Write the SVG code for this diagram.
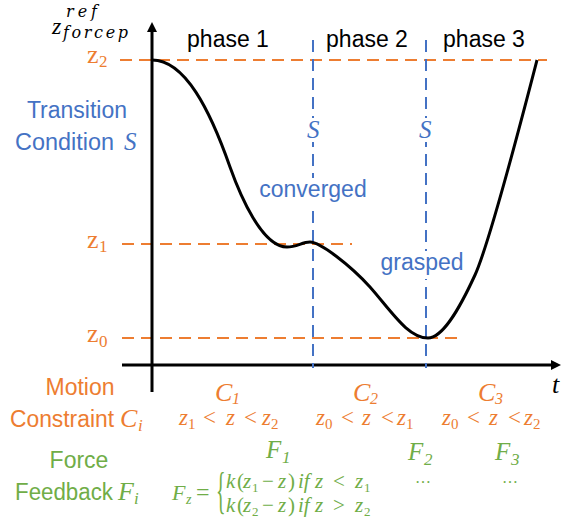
<svg xmlns="http://www.w3.org/2000/svg" width="563" height="523" viewBox="0 0 563 523">
<style>
.sans{font-family:"Liberation Sans",Arial,sans-serif;font-size:23px}
.mi{font-family:"Liberation Serif","Times New Roman",serif;font-style:italic}
.mu{font-family:"Liberation Serif","Times New Roman",serif}
.dj{font-family:"DejaVu Serif",serif;font-style:italic}
.or{fill:#ED7D31}
.bl{fill:#4472C4}
.gr{fill:#70AD47}
.bk{fill:#000}
.hd{stroke:#ED7D31;stroke-width:2;stroke-dasharray:12 7;fill:none}
.vd{stroke:#4472C4;stroke-width:2;stroke-dasharray:12 7;fill:none}
.axis{stroke:#000;stroke-width:3;fill:none}
.mid{text-anchor:middle}
</style>
<defs>
<marker id="arr" viewBox="0 0 10 10" refX="2" refY="5" markerWidth="10" markerHeight="10" markerUnits="userSpaceOnUse" orient="auto">
<path d="M0,0 L10,5 L0,10 z" fill="#000"/>
</marker>
</defs>
<rect width="563" height="523" fill="#fff"/>

<g id="guides">
<line class="hd" x1="120" y1="60" x2="547" y2="60"/>
<line class="hd" x1="122" y1="244" x2="352" y2="244"/>
<line class="hd" x1="122" y1="338" x2="462" y2="338"/>
</g>

<g id="axes">
<line class="axis" x1="152" y1="392" x2="152" y2="30" marker-end="url(#arr)"/>
<line class="axis" x1="122" y1="365" x2="553" y2="365" marker-end="url(#arr)"/>
</g>

<g id="phase-borders">
<line class="vd" x1="313" y1="40" x2="313" y2="368"/>
<line class="vd" x1="426" y1="40" x2="426" y2="368"/>
</g>

<g id="curve">
<path d="M152,60 C185,60 210,110 230,167 C240,195 262,247 287,247 C297,247 302,242 310,242 C320,242 350,265 370,287 C392,312 408,338 428,338 C442,338 458,312 475,275 C490,242 522,118 537,60" fill="none" stroke="#000" stroke-width="3"/>
</g>

<g id="y-label">
<text class="mi bk" x="52" y="34" font-size="24">z</text>
<text class="dj bk" x="66" y="17" font-size="16" textLength="31" lengthAdjust="spacing">ref</text>
<text class="dj bk" x="63" y="38" font-size="16" textLength="65" lengthAdjust="spacing">forcep</text>
</g>

<g id="level-labels">
<text class="mu or" x="87" y="63" font-size="26">z<tspan x="99" y="67" font-size="17">2</tspan></text>
<text class="mu or" x="87" y="248" font-size="26">z<tspan x="99" y="252" font-size="17">1</tspan></text>
<text class="mu or" x="87" y="342" font-size="26">z<tspan x="99" y="347" font-size="17">0</tspan></text>
</g>

<g id="phase-labels">
<text class="sans bk mid" x="228" y="47">phase 1</text>
<text class="sans bk mid" x="367" y="47">phase 2</text>
<text class="sans bk mid" x="484" y="47">phase 3</text>
</g>

<g id="transition-labels">
<text class="sans bl mid" x="77" y="118">Transition</text>
<text class="sans bl" x="15" y="150" textLength="99" lengthAdjust="spacingAndGlyphs">Condition</text>
<text class="mi bl" x="124" y="150" font-size="25">S</text>
<rect x="305" y="118" width="16" height="24" fill="#fff"/>
<text class="mi bl" x="307" y="138" font-size="25">S</text>
<rect x="418" y="118" width="16" height="24" fill="#fff"/>
<text class="mi bl" x="419" y="138" font-size="25">S</text>
<rect x="258" y="178" width="110" height="28" fill="#fff"/>
<text class="sans bl mid" x="313" y="197">converged</text>
<rect x="380" y="251" width="84" height="28" fill="#fff"/>
<text class="sans bl mid" x="422" y="270">grasped</text>
</g>

<g id="t-label">
<text class="mi bk" x="552" y="393" font-size="26">t</text>
</g>

<g id="motion-constraint">
<text class="sans or mid" x="80" y="395">Motion</text>
<text class="sans or" x="10" y="427" textLength="104" lengthAdjust="spacingAndGlyphs">Constraint</text>
<text class="mi or" x="120" y="427" font-size="26">C<tspan x="138" y="431" font-size="17">i</tspan></text>
<text class="mi or" x="215" y="401" font-size="26">C<tspan x="232" y="404" font-size="16">1</tspan></text>
<text class="mi or" x="353" y="401" font-size="26">C<tspan x="370" y="404" font-size="16">2</tspan></text>
<text class="mi or" x="478" y="401" font-size="26">C<tspan x="495" y="404" font-size="16">3</tspan></text>
<text class="mi or" font-size="23"><tspan x="179" y="425">z</tspan><tspan x="188" y="429" font-size="15" font-style="normal">1</tspan><tspan x="203" y="425" font-style="normal">&lt;</tspan><tspan x="226" y="425">z</tspan><tspan x="244" y="425" font-style="normal">&lt;</tspan><tspan x="262" y="425">z</tspan><tspan x="271" y="429" font-size="15" font-style="normal">2</tspan></text>
<text class="mi or" font-size="23"><tspan x="316" y="425">z</tspan><tspan x="325" y="429" font-size="15" font-style="normal">0</tspan><tspan x="341" y="425" font-style="normal">&lt;</tspan><tspan x="362" y="425">z</tspan><tspan x="381" y="425" font-style="normal">&lt;</tspan><tspan x="397" y="425">z</tspan><tspan x="406" y="429" font-size="15" font-style="normal">1</tspan></text>
<text class="mi or" font-size="23"><tspan x="442" y="425">z</tspan><tspan x="451" y="429" font-size="15" font-style="normal">0</tspan><tspan x="467" y="425" font-style="normal">&lt;</tspan><tspan x="489" y="425">z</tspan><tspan x="508" y="425" font-style="normal">&lt;</tspan><tspan x="524" y="425">z</tspan><tspan x="533" y="429" font-size="15" font-style="normal">2</tspan></text>
</g>

<g id="force-feedback">
<text class="sans gr mid" x="79" y="468">Force</text>
<text class="sans gr" x="15" y="500" textLength="98" lengthAdjust="spacingAndGlyphs">Feedback</text>
<text class="mi gr" x="118" y="500" font-size="26">F<tspan x="134" y="504" font-size="17">i</tspan></text>
<text class="mi gr" x="266" y="458" font-size="25">F<tspan x="282" y="463" font-size="17">1</tspan></text>
<text class="mi gr" x="408" y="460" font-size="25">F<tspan x="424" y="465" font-size="17">2</tspan></text>
<text class="mi gr" x="495" y="460" font-size="25">F<tspan x="511" y="465" font-size="17">3</tspan></text>
<text class="mu gr mid" x="423" y="483" font-size="16">…</text>
<text class="mu gr mid" x="510" y="483" font-size="16">…</text>
<text class="mi gr" x="172" y="500" font-size="22">F<tspan x="186" y="504" font-size="14">z</tspan></text>
<text class="mu gr" x="196" y="500" font-size="24">=</text>
<text class="mu gr" font-size="50" transform="translate(216,507) scale(0.4,1)" x="0" y="0">{</text>
<text class="mi gr" font-size="21"><tspan x="226" y="488">k</tspan><tspan x="237" y="488" font-style="normal">(</tspan><tspan x="243" y="488">z</tspan><tspan x="252" y="492" font-size="13" font-style="normal">1</tspan><tspan x="262" y="488" font-style="normal">−</tspan><tspan x="278" y="488">z</tspan><tspan x="288" y="488" font-style="normal">)</tspan><tspan x="298" y="488">if</tspan><tspan x="315" y="488">z</tspan><tspan x="333" y="488" font-style="normal">&lt;</tspan><tspan x="355" y="488">z</tspan><tspan x="364" y="492" font-size="13" font-style="normal">1</tspan></text>
<text class="mi gr" font-size="21"><tspan x="226" y="512">k</tspan><tspan x="237" y="512" font-style="normal">(</tspan><tspan x="243" y="512">z</tspan><tspan x="252" y="516" font-size="13" font-style="normal">2</tspan><tspan x="262" y="512" font-style="normal">−</tspan><tspan x="278" y="512">z</tspan><tspan x="288" y="512" font-style="normal">)</tspan><tspan x="298" y="512">if</tspan><tspan x="315" y="512">z</tspan><tspan x="333" y="512" font-style="normal">&gt;</tspan><tspan x="355" y="512">z</tspan><tspan x="364" y="516" font-size="13" font-style="normal">2</tspan></text>
</g>
</svg>
